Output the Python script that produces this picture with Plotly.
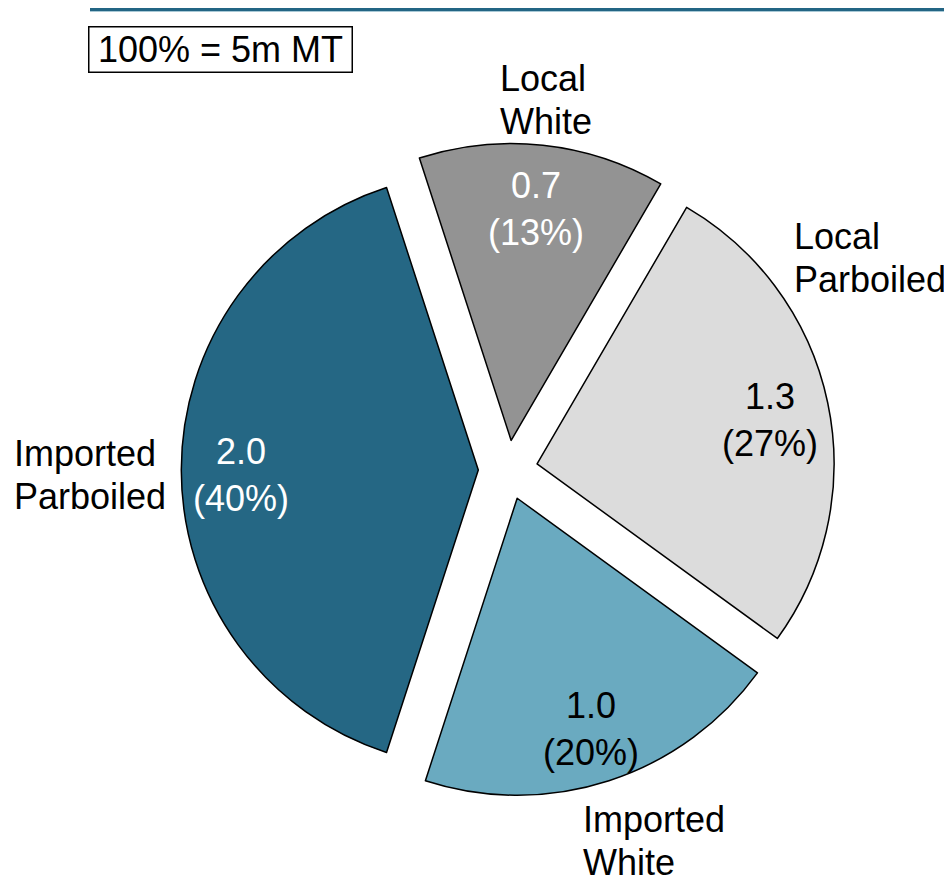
import math
import plotly.graph_objects as go

# ---- data ----
categories = ["Local White", "Local Parboiled", "Imported White", "Imported Parboiled"]
values = [0.67, 1.33, 1.0, 2.0]          # million MT
total_label = "100% = 5m MT"

# ---- styling / layout ----
PAGE_OFF = 8            # default body margin of the html page
W, H = 952 - PAGE_OFF, 878 - PAGE_OFF
colors = ["#939393", "#dcdcdc", "#6aaac0", "#256784"]
inside_font_colors = ["white", "black", "black", "white"]
FONT = "Liberation Sans, Arial, sans-serif"
FS = 36

# positions below are in screen pixels (top-left of window)
CX, CY = 508, 470      # pie centre
R = 297                # pie radius px
PULL = 0.1
ROT = -18              # start angle of first slice, clockwise from 12 o'clock
TEXT_R = 0.8           # inside text radius fraction (from pulled apex)
TEXT_DY = 5            # small vertical nudge of inside text

label_pos = [(498, 100), (792, 258), (581, 841), (12, 475)]
label_lines = [c.split(" ") for c in categories]
LINE_H = 43


def px(x, y):
    return (x - PAGE_OFF) / W, 1 - (y - PAGE_OFF) / H


ext = R * (1 + PULL)
x0, y0 = px(CX - ext, CY + ext)
x1, y1 = px(CX + ext, CY - ext)

fig = go.Figure(go.Pie(
    labels=categories, values=values, sort=False, direction="clockwise",
    rotation=ROT, pull=[PULL] * len(values),
    marker=dict(colors=colors, line=dict(color="black", width=1.5)),
    textinfo="none", hoverinfo="label+value+percent", showlegend=False,
    domain=dict(x=[x0, x1], y=[y0, y1]),
))

annotations = []
tot = sum(values)
ang = ROT
for i, v in enumerate(values):
    span = 360 * v / tot
    mid = math.radians(ang + span / 2)
    ang += span
    ax = CX + R * PULL * math.sin(mid)
    ay = CY - R * PULL * math.cos(mid)
    tx = ax + TEXT_R * R * math.sin(mid)
    ty = ay - TEXT_R * R * math.cos(mid) + TEXT_DY
    x, y = px(tx, ty)
    annotations.append(dict(
        x=x, y=y, xref="paper", yref="paper", showarrow=False,
        xanchor="center", yanchor="middle", align="center",
        text=f"{v:.1f}<br>({round(100 * v / tot)}%)",
        font=dict(family=FONT, size=FS, color=inside_font_colors[i]),
    ))

for (lx, lyc), lines in zip(label_pos, label_lines):
    n = len(lines)
    for j, line in enumerate(lines):
        ly = lyc + (j - (n - 1) / 2) * LINE_H
        x, y = px(lx, ly)
        annotations.append(dict(
            x=x, y=y, xref="paper", yref="paper", showarrow=False,
            xanchor="left", yanchor="middle", align="left", text=line,
            font=dict(family=FONT, size=FS, color="black"),
        ))

bx, by = px(220.5, 50)
annotations.append(dict(
    x=bx, y=by, xref="paper", yref="paper", showarrow=False,
    xanchor="center", yanchor="middle", text=total_label,
    width=260, height=42, borderpad=1, bordercolor="black", borderwidth=1.5,
    bgcolor="white", font=dict(family=FONT, size=FS, color="black"),
))

lx0, ly0 = px(90, 9)
shapes = [
    dict(type="line", xref="paper", yref="paper", x0=lx0, x1=1, y0=ly0, y1=ly0,
         line=dict(color="#a9c9d6", width=6)),
    dict(type="line", xref="paper", yref="paper", x0=lx0, x1=1, y0=ly0, y1=ly0,
         line=dict(color="#236584", width=4)),
]

fig.update_layout(
    width=W, height=H, margin=dict(l=0, r=0, t=0, b=0),
    paper_bgcolor="white", plot_bgcolor="white",
    annotations=annotations, shapes=shapes,
    font=dict(family=FONT, size=FS),
)

fig.write_html("out.html")
